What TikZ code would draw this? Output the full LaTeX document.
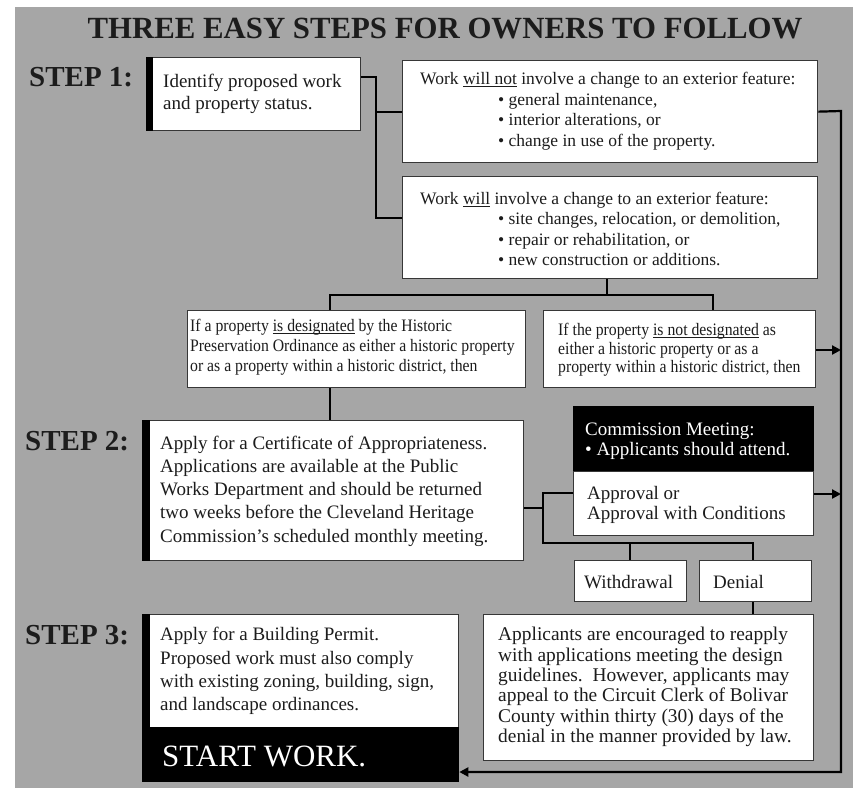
\documentclass[tikz,border=0pt]{standalone}
\usepackage{fontspec}
\setmainfont{Liberation Serif}
\newfontfamily\condfont{Liberation Serif}[FakeStretch=0.9]
\usetikzlibrary{arrows.meta}
\definecolor{bggray}{RGB}{166,166,166}
\definecolor{ink}{RGB}{28,28,28}
\definecolor{edge}{RGB}{55,55,55}
\newcommand\myul[1]{\leavevmode\setbox0\hbox{#1}\rlap{\rule[-2.4pt]{\wd0}{0.9pt}}\box0\relax}
\begin{document}
\begin{tikzpicture}[x=1pt,y=-1pt,
  wbox/.style={draw=edge, line width=1.3pt, fill=white, inner sep=0pt, anchor=north west},
  kbox/.style={draw=black, line width=1.3pt, fill=black, inner sep=0pt, anchor=north west},
  txt/.style={anchor=west, align=left, inner sep=0pt, text=ink},
  wtxt/.style={anchor=west, align=left, inner sep=0pt, text=white},
  steplabel/.style={anchor=west, inner sep=0pt, text=ink, font=\bfseries\fontsize{29}{32}\selectfont},
  conn/.style={draw=black, line width=2.2pt},
  arr/.style={-{Triangle[length=9pt,width=9pt]}}
]
\useasboundingbox (0,0) rectangle (853,788);
\fill[white] (0,0) rectangle (853,788);
\fill[bggray] (15,7) rectangle (853,788);

% title and step labels
\node[inner sep=0pt, text=ink, font=\bfseries\fontsize{30.8}{34}\selectfont] (title) at (445,29) {THREE EASY STEPS FOR OWNERS TO FOLLOW};
\node[steplabel] (st1) at (29,77.5) {STEP 1:};
\node[steplabel] (st2) at (25,441) {STEP 2:};
\node[steplabel] (st3) at (25,635) {STEP 3:};

% boxes
\node[wbox, minimum width=214pt, minimum height=73pt] (b1) at (146,57) {};
\node[wbox, minimum width=415pt, minimum height=102pt] (wn) at (402,60) {};
\node[wbox, minimum width=415pt, minimum height=102pt] (wl) at (402,176) {};
\node[wbox, minimum width=338pt, minimum height=77pt] (des) at (187,310) {};
\node[wbox, minimum width=272pt, minimum height=77pt] (nd) at (543,310) {};
\node[wbox, minimum width=381pt, minimum height=140pt] (s2) at (142,420) {};
\node[kbox, minimum width=240pt, minimum height=65pt] (comm) at (573,406) {};
\node[wbox, minimum width=240pt, minimum height=64pt] (appr) at (573,471) {};
\node[wbox, minimum width=112pt, minimum height=41pt] (wd) at (574,560) {};
\node[wbox, minimum width=112pt, minimum height=41pt] (den) at (699,560) {};
\node[wbox, minimum width=316pt, minimum height=113pt] (s3) at (142,614) {};
\node[kbox, minimum width=316pt, minimum height=54pt] (sw) at (142,727) {};
\node[wbox, minimum width=330pt, minimum height=146pt] (re) at (483,614) {};

% black bars on the left of the step boxes
\fill[black] (b1.north west) rectangle ([xshift=7pt]b1.south west);
\fill[black] (s2.north west) rectangle ([xshift=8pt]s2.south west);
\fill[black] (s3.north west) rectangle ([xshift=8pt]sw.south west);

% texts
\node[txt, font=\fontsize{19}{22}\selectfont] (t1) at (163,94) {Identify proposed work\\and property status.};
\node[txt, font=\fontsize{17.5}{20.5}\selectfont] (twn) at (420,111) {Work \myul{will not} involve a change to an exterior feature:\\
\hspace*{78pt}• general maintenance,\\
\hspace*{78pt}• interior alterations, or\\
\hspace*{78pt}• change in use of the property.};
\node[txt, font=\fontsize{17.5}{20.5}\selectfont] (twl) at (420,229) {Work \myul{will} involve a change to an exterior feature:\\
\hspace*{78pt}• site changes, relocation, or demolition,\\
\hspace*{78pt}• repair or rehabilitation, or\\
\hspace*{78pt}• new construction or additions.};
\node[txt, font=\condfont\fontsize{17.5}{20}\selectfont] (tdes) at (190,347) {If a property \myul{is designated} by the Historic\\
Preservation Ordinance as either a historic property\\
or as a property within a historic district, then};
\node[txt, font=\condfont\fontsize{17.5}{18.5}\selectfont] (tnd) at (558,350) {If the property \myul{is not designated} as\\
either a historic property or as a\\
property within a historic district, then};
\node[txt, font=\fontsize{19}{23.3}\selectfont] (ts2) at (160,491) {Apply for a Certificate of Appropriateness.\\
Applications are available at the Public\\
Works Department and should be returned\\
two weeks before the Cleveland Heritage\\
Commission's scheduled monthly meeting.};
\node[wtxt, font=\fontsize{19}{20}\selectfont] (tcomm) at (585,441) {Commission Meeting:\\• Applicants should attend.};
\node[txt, font=\fontsize{19}{20}\selectfont] (tappr) at (587,505) {Approval or\\Approval with Conditions};
\node[txt, font=\fontsize{19}{22}\selectfont] (twd) at (584,582) {Withdrawal};
\node[txt, font=\fontsize{19}{22}\selectfont] (tden) at (713,582) {Denial};
\node[txt, font=\fontsize{19}{23.3}\selectfont] (ts3) at (160,671) {Apply for a Building Permit.\\
Proposed work must also comply\\
with existing zoning, building, sign,\\
and landscape ordinances.};
\node[wtxt, font=\fontsize{31}{34}\selectfont] (tsw) at (162,756) {START WORK.};
\node[txt, font=\fontsize{19.4}{20.4}\selectfont] (tre) at (498,687) {Applicants are encouraged to reapply\\
with applications meeting the design\\
guidelines.\ \ However, applicants may\\
appeal to the Circuit Clerk of Bolivar\\
County within thirty (30) days of the\\
denial in the manner provided by law.};

% junction coordinates
\coordinate (ja) at (376,77);
\coordinate (jb) at (376,218);
\coordinate (ta) at (841,111);
\coordinate (tb) at (841,772);
\coordinate (jc) at (841,494);
\coordinate (jd) at (607,295);
\coordinate (je) at (330,295);
\coordinate (jf) at (713,295);
\coordinate (jg) at (543,508);
\coordinate (jh) at (543,493);
\coordinate (ji) at (543,543);
\coordinate (jj) at (753,543);
\coordinate (jk) at (630,543);

% connectors
\draw[conn] (b1.east |- ja) -- (ja) -- (jb) -- (wl.west |- jb);
\draw[conn] (ja |- wn.west) -- (wn.west);
\draw[conn, arr] (wn.east) -- (ta) -- (tb) -- (sw.east |- tb);
\draw[conn] (jd |- wl.south) -- (jd);
\draw[conn] (je |- des.north) -- (je) -- (jf) -- (jf |- nd.north);
\draw[conn, arr] (nd.east |- 0,350) -- (ta |- 0,350);
\draw[conn] (je |- des.south) -- (je |- s2.north);
\draw[conn] (s2.east |- jg) -- (jg);
\draw[conn] (appr.west |- jh) -- (jh) -- (ji) -- (jj) -- (jj |- den.north);
\draw[conn] (jk) -- (jk |- wd.north);
\draw[conn, arr] (appr.east |- jc) -- (jc);
\draw[conn] (jj |- den.south) -- (jj |- re.north);
\end{tikzpicture}
\end{document}
